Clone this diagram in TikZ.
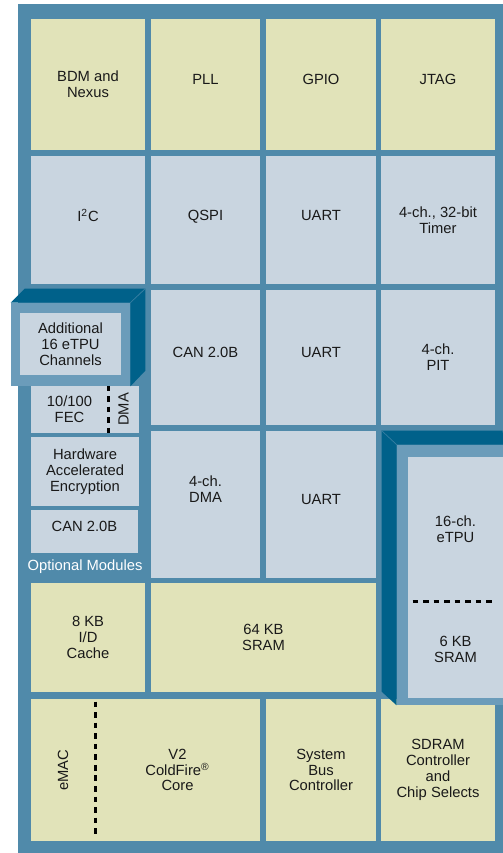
\documentclass[tikz,border=0pt]{standalone}
\usepackage{graphicx}
\usepackage{fontspec}
\setmainfont{Liberation Sans}
\usepackage{xcolor}
\usepackage{tikz}

\definecolor{frameblue}{HTML}{508AAA}
\definecolor{cellblue}{HTML}{C9D5E0}
\definecolor{cellyellow}{HTML}{E1E3B9}
\definecolor{darkblue}{HTML}{00618A}
\definecolor{faceblue}{HTML}{6B9CBA}

\tikzset{
  wh/.style 2 args={minimum width=#1*0.02cm, minimum height=#2*0.02cm}
}

\begin{document}
\begin{tikzpicture}[
  x=0.02cm, y=-0.02cm,
  cell/.style={inner sep=0pt, align=center, font=\fontsize{8.4}{9}\selectfont, text=black!90},
  ycell/.style={cell, fill=cellyellow},
  bcell/.style={cell, fill=cellblue},
  face/.style={cell, fill=faceblue},
  oneline/.style={text depth=5.6pt},
  side/.style={fill=darkblue},
  divider/.style={line width=1.7pt, dash pattern=on 3.2pt off 2.8pt}
]

\useasboundingbox (0,0) rectangle (503,853);
\fill[frameblue] (18,4) rectangle (503,853);

% top row
\node[ycell, wh={114}{131}] at (88,84.5) (bdm) {BDM and\\Nexus};
\node[ycell, oneline, wh={109}{131}] at (205.5,84.5) (pll) {PLL};
\node[ycell, oneline, wh={110}{131}] at (321,84.5) (gpio) {GPIO};
\node[ycell, oneline, wh={114}{131}] at (438,84.5) (jtag) {JTAG};

\node[bcell, oneline, wh={114}{128}] at (88,220) (iic) {I\textsuperscript{2}C};
\node[bcell, oneline, wh={109}{128}] at (205.5,220) (qspi) {QSPI};
\node[bcell, oneline, wh={110}{128}] at (321,220) (uarta) {UART};
\node[bcell, wh={114}{128}] at (438,220) (timer) {4-ch., 32-bit\\Timer};

\node[bcell, oneline, wh={109}{135}] at (205.5,357.5) (can) {CAN 2.0B};
\node[bcell, oneline, wh={110}{135}] at (321,357.5) (uartb) {UART};
\node[bcell, wh={114}{135}] at (438,357.5) (pit) {4-ch.\\PIT};

\node[bcell, wh={109}{147}] at (205.5,504.5) (dma) {};
\node[cell] at ([yshift=0.31cm]dma.center) (dmatxt) {4-ch.\\DMA};
\node[bcell, oneline, wh={110}{147}] at (321,504.5) (uartc) {UART};

% optional modules
\node[bcell, wh={77}{47}] at (69.5,409.5) (fec) {10/100\\FEC};
\node[bcell, wh={31}{47}] at (123.5,409.5) (fecdma) {\rotatebox{90}{DMA}};
\draw[divider] (fec.north east) -- (fec.south east);
\node[bcell, wh={108}{69}] at (85,471.5) (hae) {Hardware\\Accelerated\\Encryption};
\node[bcell, oneline, wh={107}{43}] at (84.5,531.5) (can2) {CAN 2.0B};
\node[cell, text=white] at (85,567) (optional) {Optional Modules};

\node[face, wh={119}{83}] at (70.5,344.5) (addfront) {};
\fill[side] (addfront.north west) -- ++(14,-14) -- ++(120,0) -- (addfront.north east) -- cycle;
\fill[side] (addfront.north east) -- ++(15,-14) -- ++(0,82) -- (addfront.south east) -- cycle;
\draw[faceblue!50!darkblue, thin] (addfront.north east) -- ++(15,-14);
\node[bcell, wh={101}{62}] at (70.5,344) (addch) {Additional\\16 eTPU\\Channels};

% memory and core
\node[ycell, wh={114}{109}] at (88,637.5) (cache) {8 KB\\I/D\\Cache};
\node[ycell, wh={225}{109}] at (263.5,637.5) (sram) {64 KB\\SRAM};

\node[ycell, wh={64}{142}] at (63,770) (emac) {\rotatebox{90}{eMAC}};
\node[ycell, wh={165}{142}] at (177.5,770) (core) {V2\\ColdFire\textsuperscript{\textregistered}\\Core};
\draw[divider, shorten <=1.7pt, shorten >=2.8pt] (emac.north east) -- (emac.south east);
\node[ycell, wh={110}{142}] at (321,770) (sbc) {System\\Bus\\Controller};
\node[ycell, wh={114}{142}] at (438,770) (sdram) {SDRAM\\Controller\\and\\Chip Selects};

% eTPU block
\node[face, wh={106}{260}] at (450,575) (etpufront) {};
\fill[side] (etpufront.north west) -- ++(-15,-14) -- ++(0,261) -- (etpufront.south west) -- cycle;
\fill[side] (etpufront.north west) -- ++(-15,-14) -- ++(121,0) -- (etpufront.north east) -- cycle;
\draw[faceblue!50!darkblue, thin] (etpufront.north west) -- ++(-15,-14);
\node[bcell, wh={95}{144}] at (455.5,529) (etpu) {16-ch.\\eTPU};
\node[bcell, wh={95}{97}] at (455.5,649.5) (etpusram) {6 KB\\SRAM};
\draw[divider, shorten <=2.8pt, shorten >=4pt] (etpu.south west) -- (etpu.south east);

\end{tikzpicture}
\end{document}
